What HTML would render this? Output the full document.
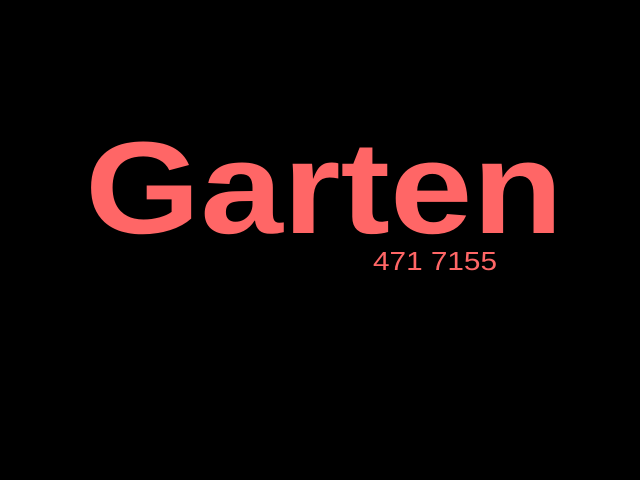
<!DOCTYPE html>
<html><head><meta charset="utf-8"><style>
html,body{margin:0;padding:0;background:#000;width:640px;height:480px;overflow:hidden}
</style></head><body>
<svg width="640" height="480" viewBox="0 0 640 480">
<rect width="640" height="480" fill="#000"/>
<text x="85" y="233" font-family="Liberation Sans, sans-serif" font-weight="bold" font-size="131" fill="#ff6666" textLength="478" lengthAdjust="spacingAndGlyphs">Garten</text>
<text x="373" y="270" font-family="Liberation Sans, sans-serif" font-size="26" fill="#ff6666" textLength="124" lengthAdjust="spacingAndGlyphs">471 7155</text>
</svg>
</body></html>
